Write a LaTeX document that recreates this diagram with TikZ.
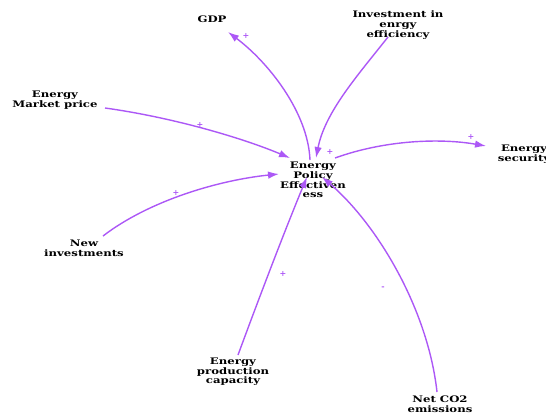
\documentclass[tikz,border=0pt]{standalone}
\usepackage{fontspec}
\setmainfont{DejaVu Serif}
\newfontfamily\varfont{DejaVu Serif}[FakeStretch=1.3]
\usetikzlibrary{arrows.meta}
\definecolor{linkpurple}{RGB}{172,88,246}
\tikzset{
  var/.style={font=\varfont\bfseries\fontsize{9}{9.6}\selectfont, align=center, inner sep=1pt},
  link/.style={draw=linkpurple, line width=1.4pt, -{Latex[length=11pt,width=7.5pt]}},
  pol/.style={text=linkpurple, font=\bfseries\fontsize{8}{8}\selectfont, inner sep=0pt}
}
\begin{document}
\begin{tikzpicture}[x=1pt,y=-1pt]
  \useasboundingbox (0,0) rectangle (546,415);
  % variables
  \node[var] (gdp) at (212,19) {GDP};
  \node[var] (inv) at (398,25) {Investment in\\enrgy\\efficiency};
  \node[var] (mkt) at (55,100) {Energy\\Market price};
  \node[var] (epe) at (313,180) {Energy\\Policy\\Effectiven\\ess};
  \node[var] (sec) at (524,154) {Energy\\security};
  \node[var] (new) at (84,248) {New\\investments};
  \node[var] (cap) at (233,372) {Energy\\production\\capacity};
  \node[var] (co2) at (440,404) {Net CO2\\emissions};
  % anchors of the links
  \coordinate (epeGdp) at (310,160);
  \coordinate (gdpIn) at (228,32);
  \coordinate (invOut) at (388,37);
  \coordinate (epeInv) at (316,158);
  \coordinate (mktOut) at (105,108);
  \coordinate (epeMkt) at (290,158);
  \coordinate (epeSec) at (335,158);
  \coordinate (secIn) at (486,146);
  \coordinate (newOut) at (103,236);
  \coordinate (epeNew) at (279,174);
  \coordinate (capOut) at (238,355);
  \coordinate (epeCap) at (307,177);
  \coordinate (co2Out) at (437,392);
  \coordinate (epeCo2) at (322,177);
  % causal links
  \draw[link] (epeGdp) .. controls (308,112) and (268,62) .. (gdpIn);
  \draw[link] (invOut) .. controls (358,75) and (325,112) .. (epeInv);
  \draw[link] (mktOut) .. controls (170,117) and (240,137) .. (epeMkt);
  \draw[link] (epeSec) .. controls (385,140) and (440,138) .. (secIn);
  \draw[link] (newOut) .. controls (150,200) and (220,180) .. (epeNew);
  \draw[link] (capOut) .. controls (262,290) and (287,225) .. (epeCap);
  \draw[link] (co2Out) .. controls (428,310) and (378,225) .. (epeCo2);
  % polarities
  \node[pol] at (246,36) {+};
  \node[pol] at (330,152) {+};
  \node[pol] at (200,125) {+};
  \node[pol] at (471,137) {+};
  \node[pol] at (176,193) {+};
  \node[pol] at (283,274) {+};
  \node[pol] at (383,288) {-};
\end{tikzpicture}
\end{document}
